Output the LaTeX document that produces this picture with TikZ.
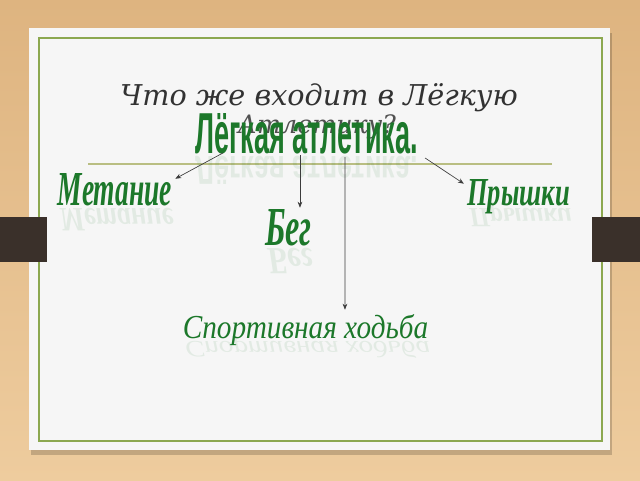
\documentclass[tikz,border=0pt]{standalone}
\usepackage{fontspec}
\setmainfont{DejaVu Serif}
\newfontfamily\artfont{Liberation Sans}
\newfontfamily\itfont{Liberation Serif}
\usetikzlibrary{arrows.meta}
\definecolor{leaf}{RGB}{28,120,42}
\definecolor{titlegray}{RGB}{50,50,50}
\definecolor{rulegreen}{RGB}{185,190,130}
\definecolor{framegreen}{RGB}{140,168,80}
\definecolor{card}{RGB}{246,246,246}
\definecolor{tab}{RGB}{58,48,42}
\definecolor{arrowgray}{RGB}{60,60,60}
\definecolor{woodtop}{RGB}{222,180,128}
\definecolor{woodbot}{RGB}{238,204,158}

\begin{document}
\begin{tikzpicture}[x=0.75pt,y=-0.75pt,
        greenword/.style={inner sep=0pt,anchor=base,text=leaf},
        mirror/.style={inner sep=0pt,anchor=base,text=leaf,opacity=0.09,yscale=-0.7,transform shape},
        arr/.style={draw=arrowgray,line width=0.5pt,-{Stealth[length=4.5pt,width=3.5pt]}}]
        \shade[top color=woodtop,bottom color=woodbot] (0,0) rectangle (640,480);
        \useasboundingbox (0,0) rectangle (640,480);
        \fill[black,opacity=0.18] (31,33) rectangle (612,455);
        \fill[card] (29,28) rectangle (610,450);
        \draw[framegreen,line width=1.6pt] (39,38) rectangle (602,441);
        \fill[tab] (0,217) rectangle (47,262);
        \fill[tab] (592,217) rectangle (640,262);
        \node[anchor=base,text=titlegray,font=\fontsize{21.5}{24}\selectfont\itshape] (ttl) at (319,105) {Что же входит в Лёгкую};
        \node[anchor=base,text=titlegray!85,font=\fontsize{19}{21}\selectfont\itshape] (ttlb) at (317,133) {Атлетику?};
        \draw[rulegreen,line width=1.5pt] (88,164) -- (552,164);
        \node[mirror] (legar) at (306.5,156) {\resizebox{167pt}{30pt}{\artfont\bfseries Лёгкая атлетика.}};
        \node[greenword] (lega) at (306.5,153) {\resizebox{167pt}{30pt}{\artfont\bfseries Лёгкая атлетика.}};
        \node[mirror] (metr) at (117,208) {\resizebox{85.5pt}{24pt}{\itfont\bfseries\itshape Метание}};
        \node[greenword] (met) at (115,205) {\resizebox{85.5pt}{24pt}{\itfont\bfseries\itshape Метание}};
        \node[mirror] (pryr) at (520.5,208) {\resizebox{77pt}{19.5pt}{\itfont\bfseries\itshape Прышки}};
        \node[greenword] (pry) at (518.5,205) {\resizebox{77pt}{19.5pt}{\itfont\bfseries\itshape Прышки}};
        \node[mirror] (begr) at (290.5,248) {\resizebox{35pt}{27pt}{\itfont\bfseries\itshape Бег}};
        \node[greenword] (beg) at (288.5,245) {\resizebox{35pt}{27pt}{\itfont\bfseries\itshape Бег}};
        \node[mirror] (hodr) at (307.5,341) {\resizebox{184pt}{18pt}{\itfont\itshape Спортивная ходьба}};
        \node[greenword] (hod) at (305.5,338) {\resizebox{184pt}{18pt}{\itfont\itshape Спортивная ходьба}};
        \draw[arr] ([xshift=21pt]lega.base west) -- ([xshift=2.25pt,yshift=-4.5pt]met.north east);
        \draw[arr] ([xshift=-4.9pt,yshift=-1.5pt]lega.base) -- ([xshift=8.6pt,yshift=0.75pt]beg.north);
        \draw[arr] ([xshift=28.9pt,yshift=-3pt]lega.base) -- ([xshift=29.6pt,yshift=3pt]hod.north);
        \draw[arr] ([xshift=5.25pt,yshift=-3.75pt]lega.base east) -- ([xshift=-2.25pt,yshift=-3.75pt]pry.north west);
    \end{tikzpicture}
\end{document}
